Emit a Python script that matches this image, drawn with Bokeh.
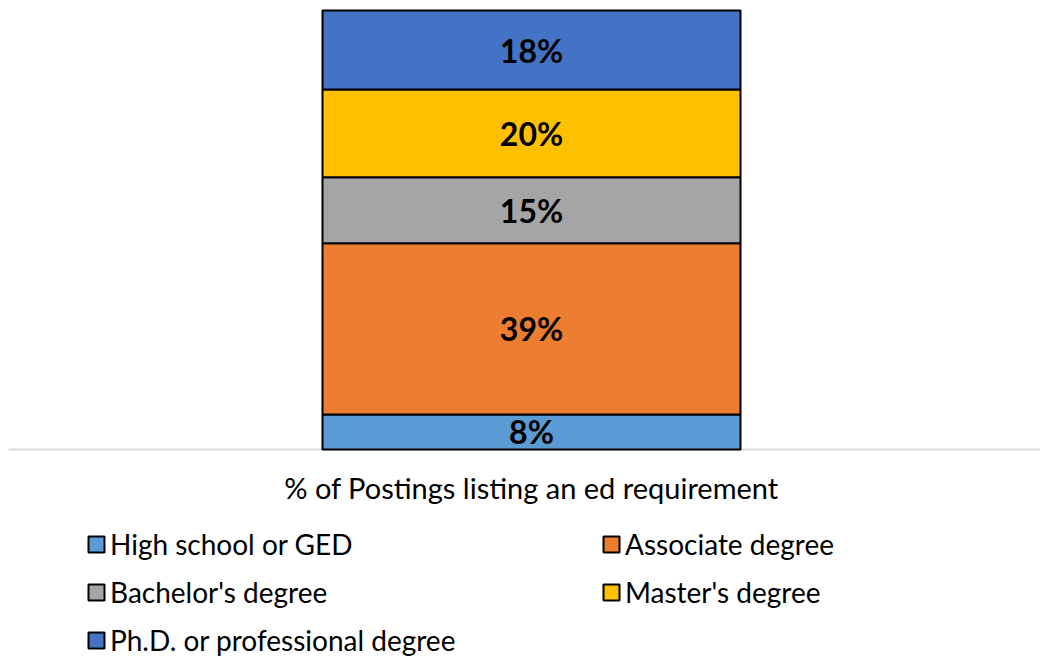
from bokeh.plotting import figure
from bokeh.models import Range1d, ColumnDataSource, Legend, LegendItem, Label
from bokeh.core.properties import value
from bokeh.embed import file_html
from bokeh.resources import INLINE

# Data (bottom to top of the stacked bar)
categories = ["High school or GED", "Associate degree", "Bachelor's degree",
              "Master's degree", "Ph.D. or professional degree"]
shares = [8, 39, 15, 20, 18]
colors = ["#5B9BD5", "#ED7D31", "#A5A5A5", "#FFC000", "#4472C4"]
axis_title = "% of Postings listing an ed requirement"

FONT = "Lato"
W, H = 1040, 658

bottoms, tops = [], []
acc = 0
for s in shares:
    bottoms.append(acc)
    acc += s
    tops.append(acc)

p = figure(width=W, height=H, output_backend="svg", toolbar_location=None,
           x_range=Range1d(0, W), y_range=Range1d(-47.61, 102.28),
           min_border=0)
p.axis.visible = False
p.grid.visible = False
p.outline_line_color = None

bar_x = 531
bar_w = 418

# baseline
p.segment(x0=[8], y0=[0], x1=[W], y1=[0], line_color="#d9d9d9", line_width=2)

renderers = []
for cat, b, t, c in zip(categories, bottoms, tops, colors):
    src = ColumnDataSource(dict(x=[bar_x], bottom=[b], top=[t],
                                mid=[(b + t) / 2], lab=[f"{t - b}%"]))
    r = p.vbar(x="x", bottom="bottom", top="top", width=bar_w, source=src,
               fill_color=c, line_color="#000000", line_width=2)
    p.text(x="x", y="mid", text="lab", source=src, text_align="center",
           text_baseline="middle", text_font=value(FONT), text_font_style="bold",
           text_font_size="32px", text_color="#000000")
    renderers.append(r)

p.add_layout(Label(x=bar_x, y=-8.66, text=axis_title, text_align="center",
                   text_baseline="middle", text_font=FONT, text_font_size="29px",
                   text_color="#000000"))

def make_legend(idx, loc):
    items = [LegendItem(label=categories[i], renderers=[renderers[i]]) for i in idx]
    lg = Legend(items=items, location=loc, orientation="vertical",
                label_text_font=FONT, label_text_font_size="28px",
                label_text_color="#000000", glyph_width=20, glyph_height=20,
                label_standoff=4, label_height=30, spacing=14,
                padding=0, margin=0, border_line_alpha=0,
                background_fill_alpha=0)
    return lg

p.add_layout(make_legend([0, 2, 4], (86, 1)))
p.add_layout(make_legend([1, 3], (601, 49)))

open("out.html", "w").write(file_html(p, INLINE))
